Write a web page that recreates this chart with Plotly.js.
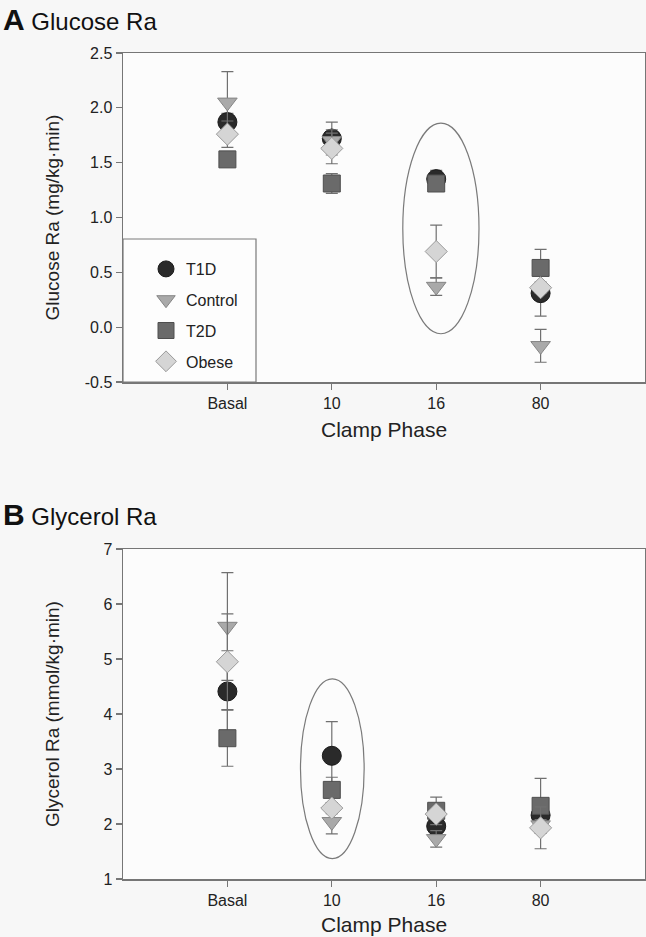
<!DOCTYPE html>
<html>
<head>
<meta charset="utf-8">
<script src="https://cdn.plot.ly/plotly-3.0.1.min.js"></script>
<style>html,body{margin:0;padding:0;background:#f7f7f7;}#chart{width:646px;height:937px;}</style>
</head>
<body>
<div id="chart"></div>
<script>
// ---- data ----
const categories = ['Basal', '10', '16', '80'];
const groups = ['T1D', 'Control', 'T2D', 'Obese'];

// Panel A: Glucose Ra (mg/kg·min)
const glucoseT1D = [1.87, 1.72, 1.35, 0.31];
const glucoseT1DErr = [0.08, 0.15, 0.08, 0.21];
const glucoseControl = [2.05, 1.70, 0.37, -0.17];
const glucoseControlErr = [0.28, 0.10, 0.08, 0.15];
const glucoseT2D = [1.53, 1.31, 1.31, 0.54];
const glucoseT2DErr = [0.06, 0.09, 0.05, 0.17];
const glucoseObese = [1.76, 1.63, 0.69, 0.36];
const glucoseObeseErr = [0.12, 0.14, 0.24, 0.05];

// Panel B: Glycerol Ra (mmol/kg·min)
const glycerolT1D = [4.41, 3.24, 1.96, 2.16];
const glycerolT1DErr = [0.74, 0.62, 0.10, 0.10];
const glycerolControl = [5.59, 2.04, 1.73, 1.98];
const glycerolControlErr = [0.98, 0.22, 0.15, 0.10];
const glycerolT2D = [3.56, 2.62, 2.24, 2.33];
const glycerolT2DErr = [0.51, 0.23, 0.25, 0.50];
const glycerolObese = [4.95, 2.29, 2.18, 1.93];
const glycerolObeseErr = [0.87, 0.10, 0.10, 0.38];

const yTicksA = [-0.5, 0.0, 0.5, 1.0, 1.5, 2.0, 2.5];
const yTicksB = [1, 2, 3, 4, 5, 6, 7];

// ---- styles ----
const FONT = 'Liberation Sans, Arial, sans-serif';
const styles = {
  T1D:     {symbol: 'circle',        size: 19, color: '#2a2a2a', line: '#1a1a1a'},
  Control: {symbol: 'triangle-down', size: 17, color: '#a9a9a9', line: '#858585'},
  T2D:     {symbol: 'square',        size: 17, color: '#6a6a6a', line: '#4e4e4e'},
  Obese:   {symbol: 'diamond',       size: 17, color: '#d5d5d5', line: '#9a9a9a'}
};
const seriesA = {T1D: [glucoseT1D, glucoseT1DErr], Control: [glucoseControl, glucoseControlErr], T2D: [glucoseT2D, glucoseT2DErr], Obese: [glucoseObese, glucoseObeseErr]};
const seriesB = {T1D: [glycerolT1D, glycerolT1DErr], Control: [glycerolControl, glycerolControlErr], T2D: [glycerolT2D, glycerolT2DErr], Obese: [glycerolObese, glycerolObeseErr]};

function mk(name, vals, errs, xa, ya, showleg) {
  const s = styles[name];
  return {
    type: 'scatter', mode: 'markers', name: name, legendgroup: name,
    x: categories, y: vals, xaxis: xa, yaxis: ya, showlegend: showleg,
    error_y: {type: 'data', array: errs, visible: true, color: '#707070', thickness: 1.2, width: 6},
    marker: {symbol: s.symbol, size: s.size, color: s.color, line: {color: s.line, width: 1}},
    cliponaxis: false
  };
}
const traces = [];
groups.forEach(g => traces.push(mk(g, seriesA[g][0], seriesA[g][1], 'x', 'y', true)));
groups.forEach(g => traces.push(mk(g, seriesB[g][0], seriesB[g][1], 'x2', 'y2', false)));

const W = 646, H = 937;
const xd = [123 / W, 645 / W];
const yA = [1 - 382 / H, 1 - 53 / H];
const yB = [1 - 879 / H, 1 - 549 / H];

const axCommon = {
  showline: true, linecolor: '#767676', linewidth: 1.5, mirror: true,
  ticks: 'outside', ticklen: 6, tickcolor: '#767676', tickwidth: 1.2,
  showgrid: false, zeroline: false,
  tickfont: {family: FONT, size: 16, color: '#222'}
};

const layout = {
  width: W, height: H,
  margin: {l: 0, r: 0, t: 0, b: 0},
  paper_bgcolor: '#f7f7f7', plot_bgcolor: '#fcfcfc',
  font: {family: FONT, color: '#222'},
  showlegend: true,
  legend: {
    x: 146 / W, xanchor: 'left', y: 1 - 252 / H, yanchor: 'top',
    bgcolor: 'rgba(0,0,0,0)', borderwidth: 0,
    font: {family: FONT, size: 16, color: '#222'},
    itemsizing: 'trace', tracegroupgap: 7
  },
  xaxis: Object.assign({}, axCommon, {domain: xd, anchor: 'y', type: 'category', range: [-1, 4], categoryorder: 'array', categoryarray: categories}),
  yaxis: Object.assign({}, axCommon, {domain: yA, anchor: 'x', range: [-0.5, 2.5], tickvals: yTicksA, ticktext: yTicksA.map(v => v.toFixed(1))}),
  xaxis2: Object.assign({}, axCommon, {domain: xd, anchor: 'y2', type: 'category', range: [-1, 4], categoryorder: 'array', categoryarray: categories}),
  yaxis2: Object.assign({}, axCommon, {domain: yB, anchor: 'x2', range: [1, 7], tickvals: yTicksB}),
  shapes: [
    {type: 'rect', xref: 'paper', yref: 'paper', x0: 123 / W, x1: 256 / W, y0: yA[0], y1: 1 - 239 / H,
     line: {color: '#7a7a7a', width: 1.2}, fillcolor: '#fdfdfd', layer: 'above'},
    {type: 'circle', xref: 'x', yref: 'y', x0: 1.68, x1: 2.41, y0: -0.06, y1: 1.86,
     line: {color: '#7a7a7a', width: 1.2}},
    {type: 'circle', xref: 'x2', yref: 'y2', x0: 0.70, x1: 1.31, y0: 1.37, y1: 4.64,
     line: {color: '#7a7a7a', width: 1.2}}
  ],
  annotations: [
    {xref: 'paper', yref: 'paper', x: 1 / W, y: 1 - 20 / H, xanchor: 'left', yanchor: 'middle', showarrow: false,
     text: '<b><span style="font-size:30px">A</span></b> Glucose Ra', font: {family: FONT, size: 24, color: '#111'}},
    {xref: 'paper', yref: 'paper', x: 1 / W, y: 1 - 514 / H, xanchor: 'left', yanchor: 'middle', showarrow: false,
     text: '<b><span style="font-size:30px">B</span></b> Glycerol Ra', font: {family: FONT, size: 24, color: '#111'}},
    {xref: 'paper', yref: 'paper', x: 52 / W, y: (yA[0] + yA[1]) / 2, xanchor: 'center', yanchor: 'middle', showarrow: false,
     textangle: -90, text: 'Glucose Ra (mg/kg·min)', font: {family: FONT, size: 19, color: '#222'}},
    {xref: 'paper', yref: 'paper', x: 52 / W, y: (yB[0] + yB[1]) / 2, xanchor: 'center', yanchor: 'middle', showarrow: false,
     textangle: -90, text: 'Glycerol Ra (mmol/kg·min)', font: {family: FONT, size: 19, color: '#222'}},
    {xref: 'paper', yref: 'paper', x: (xd[0] + xd[1]) / 2, y: 1 - 429 / H, xanchor: 'center', yanchor: 'middle', showarrow: false,
     text: 'Clamp Phase', font: {family: FONT, size: 21, color: '#222'}},
    {xref: 'paper', yref: 'paper', x: (xd[0] + xd[1]) / 2, y: 1 - 924 / H, xanchor: 'center', yanchor: 'middle', showarrow: false,
     text: 'Clamp Phase', font: {family: FONT, size: 21, color: '#222'}}
  ]
};

Plotly.newPlot('chart', traces, layout, {displayModeBar: false, staticPlot: true});
</script>
</body>
</html>
